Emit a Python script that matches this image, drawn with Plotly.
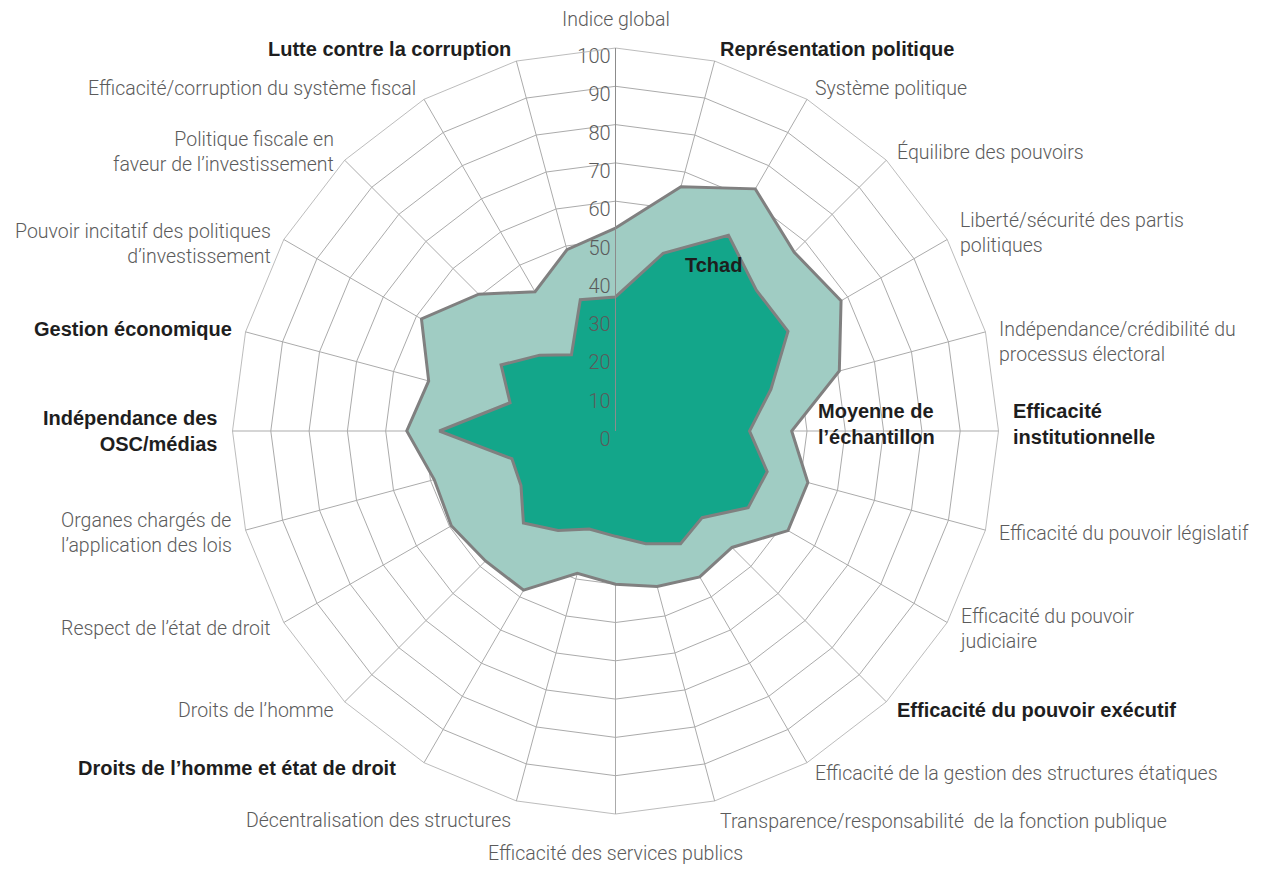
import math
import plotly.graph_objects as go

# Governance indicators, clockwise from the top
categories = [
    "Indice global",
    "Représentation politique",
    "Système politique",
    "Équilibre des pouvoirs",
    "Liberté/sécurité des partis politiques",
    "Indépendance/crédibilité du processus électoral",
    "Efficacité institutionnelle",
    "Efficacité du pouvoir législatif",
    "Efficacité du pouvoir judiciaire",
    "Efficacité du pouvoir exécutif",
    "Efficacité de la gestion des structures étatiques",
    "Transparence/responsabilité  de la fonction publique",
    "Efficacité des services publics",
    "Décentralisation des structures",
    "Droits de l’homme et état de droit",
    "Droits de l’homme",
    "Respect de l’état de droit",
    "Organes chargés de l’application des lois",
    "Indépendance des OSC/médias",
    "Gestion économique",
    "Pouvoir incitatif des politiques d’investissement",
    "Politique fiscale en faveur de l’investissement",
    "Efficacité/corruption du système fiscal",
    "Lutte contre la corruption",
]

# Text shown around the chart (line breaks where the label wraps)
tick_labels = [
    "Indice global",
    "Représentation politique",
    "Système politique",
    "Équilibre des pouvoirs",
    "Liberté/sécurité des partis<br>politiques",
    "Indépendance/crédibilité du<br>processus électoral",
    "Efficacité<br>institutionnelle",
    "Efficacité du pouvoir législatif",
    "Efficacité du pouvoir<br>judiciaire",
    "Efficacité du pouvoir exécutif",
    "Efficacité de la gestion des structures étatiques",
    "Transparence/responsabilité  de la fonction publique",
    "Efficacité des services publics",
    "Décentralisation des structures",
    "Droits de l’homme et état de droit",
    "Droits de l’homme",
    "Respect de l’état de droit",
    "Organes chargés de<br>l’application des lois",
    "Indépendance des<br>OSC/médias",
    "Gestion économique",
    "Pouvoir incitatif des politiques<br>d’investissement",
    "Politique fiscale en<br>faveur de l’investissement",
    "Efficacité/corruption du système fiscal",
    "Lutte contre la corruption",
]

# Main categories are printed in bold
main_categories = [
    "Représentation politique",
    "Efficacité institutionnelle",
    "Efficacité du pouvoir exécutif",
    "Droits de l’homme et état de droit",
    "Indépendance des OSC/médias",
    "Gestion économique",
    "Lutte contre la corruption",
]

moyenne = [53, 66, 73, 66, 68, 60.5, 46, 52, 52, 43, 44, 42,
           40, 38.5, 48, 48, 49.5, 49, 54.5, 50.5, 58.5, 50.5, 42, 49]
tchad = [35, 48, 59, 52, 52, 42, 35, 41, 40, 32, 34, 30.5,
         27.5, 26.5, 30, 34, 28.5, 28, 46, 28.5, 34.5, 28, 23, 35.5]

radial_ticks = [0, 10, 20, 30, 40, 50, 60, 70, 80, 90, 100]

LIGHT_FONT = "Roboto"
BOLD_FONT = "Liberation Sans"
GREY_TEXT = "#5b5b5b"
DARK_TEXT = "#1e1e1e"
GRID = "#ababab"
OUTLINE = "#808080"

# Page geometry: the polar disc fills the plot area height
W, H = 1262, 869
MARGIN = dict(l=0, r=31, t=48, b=55)
PLOT_W = W - MARGIN["l"] - MARGIN["r"]
PLOT_H = H - MARGIN["t"] - MARGIN["b"]
RADIUS = PLOT_H / 2
CX = MARGIN["l"] + PLOT_W / 2
CY = MARGIN["t"] + PLOT_H / 2
LABEL_RADIUS = 1.032 * RADIUS

# Hand adjustments (pixels) for a few wrapped / long labels
label_nudge = {
    "Indépendance/crédibilité du processus électoral": (0, 13),
    "Efficacité institutionnelle": (0, -7),
    "Pouvoir incitatif des politiques d’investissement": (0, 11),
    "Droits de l’homme et état de droit": (-20, -5),
    "Indice global": (0, -3),
    "Décentralisation des structures": (0, 8),
    "Transparence/responsabilité  de la fonction publique": (0, 9),
}


def closed(values):
    return list(values) + [values[0]]


def to_paper(px, py):
    return (px - MARGIN["l"]) / PLOT_W, 1 - (py - MARGIN["t"]) / PLOT_H


fig = go.Figure()

fig.add_trace(go.Scatterpolar(
    r=closed(moyenne),
    theta=closed(categories),
    mode="lines",
    fill="toself",
    fillcolor="#a0ccc3",
    line=dict(color=OUTLINE, width=3),
    name="Moyenne de l’échantillon",
    hoverinfo="skip",
))

fig.add_trace(go.Scatterpolar(
    r=closed(tchad),
    theta=closed(categories),
    mode="lines",
    fill="toself",
    fillcolor="#13a68a",
    line=dict(color=OUTLINE, width=3),
    name="Tchad",
    hoverinfo="skip",
))

# Scale values written just left of the vertical axis
# (the pole value is nudged off r=0 so its label is kept)
fig.add_trace(go.Scatterpolar(
    r=[max(v, 1e-3) for v in radial_ticks],
    theta=[categories[0]] * len(radial_ticks),
    mode="text",
    text=[f"{v}\u00a0" for v in radial_ticks],
    textposition="bottom left",
    textfont=dict(family=LIGHT_FONT, size=20, color=GREY_TEXT, weight=300),
    hoverinfo="skip",
    cliponaxis=False,
))

fig.update_layout(
    width=W,
    height=H,
    paper_bgcolor="white",
    plot_bgcolor="white",
    showlegend=False,
    margin=MARGIN,
    font=dict(family=LIGHT_FONT, size=19.5, color=GREY_TEXT, weight=300),
    polar=dict(
        bgcolor="white",
        gridshape="linear",
        domain=dict(x=[0, 1], y=[0, 1]),
        radialaxis=dict(
            range=[0, 100],
            tickmode="array",
            tickvals=radial_ticks,
            showticklabels=False,
            angle=90,
            showline=True,
            linecolor="#8c8c8c",
            linewidth=1,
            gridcolor=GRID,
            gridwidth=0.8,
            ticks="",
            layer="above traces",
        ),
        angularaxis=dict(
            type="category",
            categoryorder="array",
            categoryarray=categories,
            direction="clockwise",
            rotation=90,
            showline=True,
            linecolor=GRID,
            linewidth=0.8,
            gridcolor=GRID,
            gridwidth=0.8,
            ticks="",
            showticklabels=False,
            layer="above traces",
        ),
    ),
)

# Category names placed around the outer ring
n = len(categories)
left_aligned_on_left = ["Organes chargés de l’application des lois"]
for i, (cat, lab) in enumerate(zip(categories, tick_labels)):
    ang = math.radians(90 - 360 * i / n)
    c, s = math.cos(ang), math.sin(ang)
    rad = LABEL_RADIUS * (1.035 if i == n // 2 else 1.0)
    dx, dy = label_nudge.get(cat, (0, 0))
    x, y = to_paper(CX + rad * c + dx, CY - rad * s + dy)
    if abs(c) < 1e-6:
        xanchor = "center"
        yanchor = "bottom" if s > 0 else "top"
        align = "center"
    else:
        xanchor = "left" if c > 0 else "right"
        yanchor = "middle"
        align = "left" if (c > 0 or cat in left_aligned_on_left) else "right"
    if cat in main_categories:
        font = dict(family=BOLD_FONT, size=20, color=DARK_TEXT, weight=700)
        text = f"<b>{lab}</b>"
    else:
        font = dict(family=LIGHT_FONT, size=19.5, color=GREY_TEXT, weight=300)
        text = lab
    fig.add_annotation(
        text=text, xref="paper", yref="paper", x=x, y=y,
        xanchor=xanchor, yanchor=yanchor, align=align,
        showarrow=False, font=font,
    )

# Series names written inside the chart
series_font = dict(family=BOLD_FONT, size=20, color=DARK_TEXT, weight=700)
tx, ty = to_paper(713, 265)
fig.add_annotation(
    text="<b>Tchad</b>", xref="paper", yref="paper", x=tx, y=ty,
    showarrow=False, font=series_font, xanchor="center", yanchor="middle",
)
mx, my = to_paper(816, 424)
fig.add_annotation(
    text="<b>Moyenne de<br>l’échantillon</b>", xref="paper", yref="paper",
    x=mx, y=my, showarrow=False, font=series_font,
    xanchor="left", yanchor="middle", align="left",
)

fig.write_html("out.html")
